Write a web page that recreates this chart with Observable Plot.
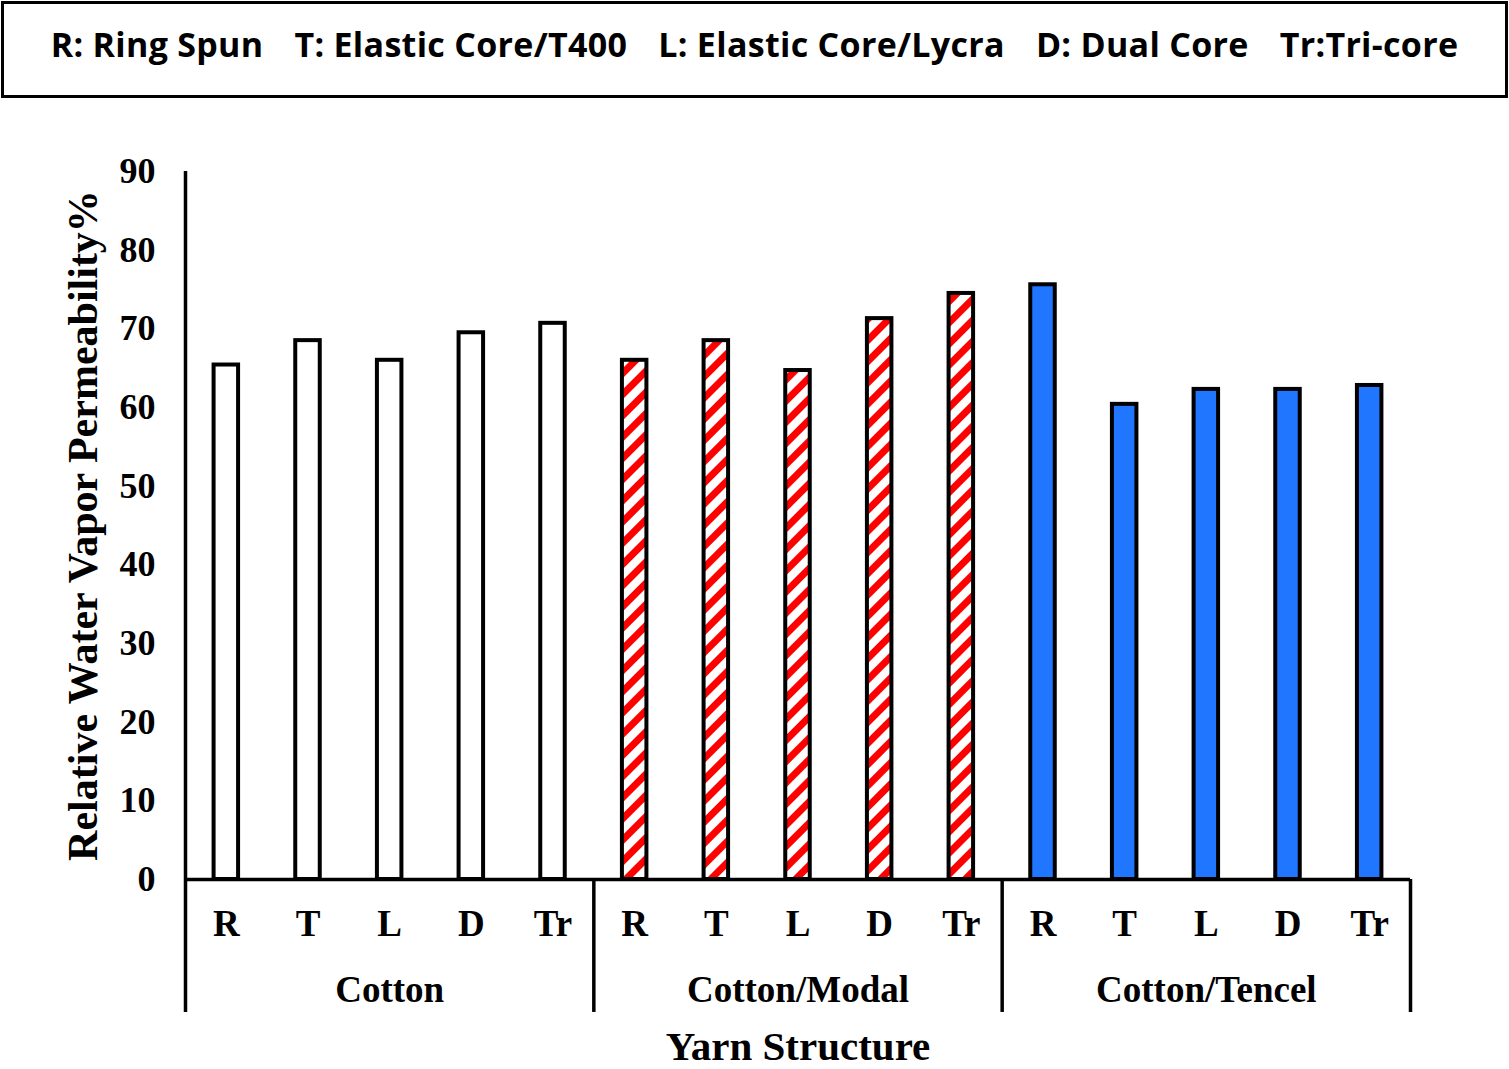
<!DOCTYPE html>
<html><head><meta charset="utf-8">
<script src="https://cdn.jsdelivr.net/npm/d3@7"></script>
<script src="https://cdn.jsdelivr.net/npm/@observablehq/plot@0.6"></script>
<style>
body{margin:0;background:#fff;width:1509px;height:1069px;position:relative;overflow:hidden}
#legend{position:absolute;left:1px;top:1px;width:1507px;height:97px;box-sizing:border-box;border:3px solid #000;display:flex;align-items:center;justify-content:center;gap:31px;font-family:"Open Sans";font-weight:700;font-size:34px;letter-spacing:0.3px;padding-bottom:12px;color:#000}
#chart{position:absolute;left:0;top:100px}
</style></head><body>
<div id="legend"></div>
<div id="chart"></div>
<script>
const legendItems = ["R: Ring Spun", "T: Elastic Core/T400", "L: Elastic Core/Lycra", "D: Dual Core", "Tr:Tri-core"];
const groups = ["Cotton", "Cotton/Modal", "Cotton/Tencel"];
const structures = ["R", "T", "L", "D", "Tr"];
const cotton = [65.4, 68.5, 66.0, 69.5, 70.7];
const cottonModal = [66.0, 68.5, 64.7, 71.3, 74.5];
const cottonTencel = [75.6, 60.4, 62.3, 62.3, 62.8];
const yTicks = [0, 10, 20, 30, 40, 50, 60, 70, 80, 90];
const yLabel = "Relative Water Vapor Permeability%";
const xLabel = "Yarn Structure";

const legend = document.getElementById("legend");
for (const t of legendItems) { const s = document.createElement("span"); s.textContent = t; legend.appendChild(s); }

const series = [cotton, cottonModal, cottonTencel];
const rows = [];
groups.forEach((g, gi) => structures.forEach((s, si) => rows.push({group: g, gi, structure: s, idx: gi * structures.length + si, value: series[gi][si]})));
const nSlots = groups.length * structures.length;
const groupRows = groups.map((g, gi) => ({group: g, mid: gi * structures.length + structures.length / 2}));
const separators = d3.range(0, nSlots + 1, structures.length);

const barOpts = (gi, fill) => ({
  filter: d => d.gi === gi,
  x1: d => d.idx + 0.35, x2: d => d.idx + 0.65, y: "value",
  fill, stroke: "#000", strokeWidth: 4
});

const plot = Plot.plot({
  width: 1509, height: 969,
  marginLeft: 185, marginRight: 99, marginTop: 71, marginBottom: 190,
  style: {fontFamily: "Liberation Serif", fontWeight: "bold", color: "#000", background: "#fff"},
  x: {domain: [0, nSlots], axis: null},
  y: {domain: [0, 90], axis: null},
  marks: [
    Plot.rectY(rows, barOpts(0, "#fff")),
    Plot.rectY(rows, barOpts(1, "url(#hatch)")),
    Plot.rectY(rows, barOpts(2, "#2176ff")),
    Plot.ruleX([0], {y1: 0, y2: 90, strokeWidth: 3.5}),
    Plot.ruleY([0], {x1: 0, x2: nSlots, strokeWidth: 3.5}),
    Plot.ruleX(separators, {y1: 0, y2: -16.9, strokeWidth: 3.5}),
    Plot.axisY({ticks: yTicks, tickSize: 0, tickPadding: 30, fontSize: 36, label: null}),
    Plot.text(rows, {x: d => d.idx + 0.5, y: 0, dy: 45, text: "structure", fontSize: 37}),
    Plot.text(groupRows, {x: "mid", y: 0, dy: 111, text: "group", fontSize: 37}),
    Plot.text([xLabel], {x: nSlots / 2, y: 0, dy: 167, text: d => d, fontSize: 41}),
    Plot.text([yLabel], {frameAnchor: "left", textAnchor: "middle", rotate: -90, dx: -102, text: d => d, fontSize: 42})
  ]
});

const svg = d3.select(plot);
const pat = svg.insert("defs", ":first-child").append("pattern")
  .attr("id", "hatch").attr("patternUnits", "userSpaceOnUse")
  .attr("width", 15).attr("height", 15).attr("patternTransform", "rotate(45)");
pat.append("rect").attr("width", 15).attr("height", 15).attr("fill", "#fff");
pat.append("rect").attr("width", 7).attr("height", 15).attr("fill", "#ff0000");

document.getElementById("chart").appendChild(plot);
</script>
</body></html>
